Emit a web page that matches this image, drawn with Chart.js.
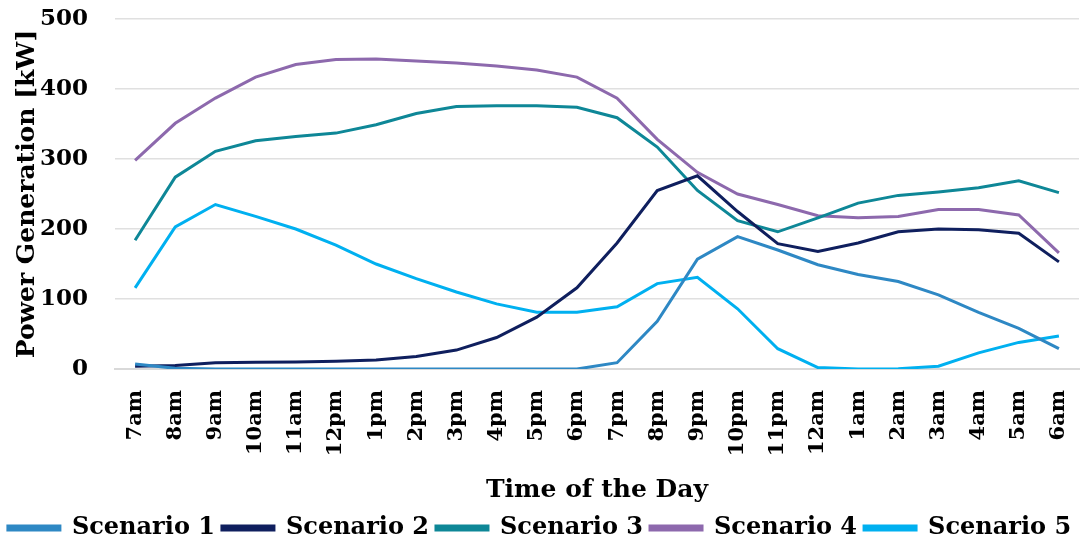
<!DOCTYPE html>
<html>
<head>
<meta charset="utf-8">
<script src="https://cdn.jsdelivr.net/npm/chart.js@4"></script>
<style>
  html, body { margin: 0; padding: 0; background: #fff; }
  #wrap { width: 1088px; height: 550px; }
</style>
</head>
<body>
<div id="wrap"><canvas id="powerChart"></canvas></div>
<script>
const hours = ['7am', '8am', '9am', '10am', '11am', '12pm', '1pm', '2pm', '3pm', '4pm', '5pm', '6pm',
    '7pm', '8pm', '9pm', '10pm', '11pm', '12am', '1am', '2am', '3am', '4am', '5am', '6am'];

const scenario1 = [7, 1, 0, 0, 0, 0, 0, 0, 0, 0, 0, 0, 9, 68, 157, 189, 170, 149, 135, 125, 106, 81, 58, 29];
const scenario2 = [4, 5, 9, 9.5, 10, 11, 13, 18, 27, 45, 74, 116, 180, 255, 276, 225, 179, 168, 180, 196, 200, 199, 194, 153];
const scenario3 = [184, 274, 311, 326, 332, 337, 349, 365, 375, 376, 376, 374, 359, 317, 255, 212, 196, 216, 237, 248, 253, 259, 269, 252];
const scenario4 = [298, 351, 387, 417, 435, 442, 443, 440, 437, 433, 427, 417, 387, 328, 281, 250, 235, 219, 216, 218, 228, 228, 220, 166];
const scenario5 = [116, 203, 235, 218, 200, 177, 150, 129, 110, 93, 81, 81, 89, 122, 131, 86, 29, 2, 0, 0.5, 4, 23, 38, 47];

const seriesNames = ['Scenario 1', 'Scenario 2', 'Scenario 3', 'Scenario 4', 'Scenario 5'];
const seriesColors = ['#2E88C4', '#0F1F5E', '#0E8797', '#8D69AD', '#00B0F0'];

const font = "'DejaVu Serif', serif";

const ctx = document.getElementById('powerChart');

new Chart(ctx, {
    type: 'line',
    data: {
        labels: hours,
        datasets: [scenario1, scenario2, scenario3, scenario4, scenario5].map((values, i) => ({
            label: seriesNames[i],
            data: values,
            borderColor: seriesColors[i],
            backgroundColor: seriesColors[i],
            borderWidth: 3,
            pointRadius: 0,
            tension: 0
        }))
    },
    options: {
        responsive: true,
        maintainAspectRatio: false,
        animation: false,
        layout: { padding: { top: 19, right: 9, left: 0, bottom: 0 } },
        plugins: {
            tooltip: { enabled: false },
            legend: {
                position: 'bottom',
                labels: {
                    color: '#000',
                    font: { family: font, size: 24, weight: 'bold' },
                    boxWidth: 52,
                    boxHeight: 4,
                    padding: 7
                }
            }
        },
        scales: {
            x: {
                offset: true,
                // tick marks kept invisible, only used to push the labels down
                grid: {
                    display: true,
                    drawOnChartArea: false,
                    drawTicks: true,
                    tickLength: 21,
                    tickColor: 'transparent'
                },
                border: { color: '#d9d9d9', width: 2 },
                ticks: {
                    color: '#000',
                    font: { family: font, size: 21, weight: 'bold' },
                    maxRotation: 90,
                    minRotation: 90,
                    autoSkip: false,
                    padding: 0
                },
                title: {
                    display: true,
                    text: 'Time of the Day',
                    color: '#000',
                    font: { family: font, size: 25, weight: 'bold' },
                    padding: { top: 4, bottom: 4 }
                },
                afterFit(scale) {
                    scale.height = 140;
                }
            },
            y: {
                min: 0,
                max: 500,
                grid: {
                    color: '#e0e0e0',
                    lineWidth: 1.5,
                    drawTicks: true,
                    tickLength: 27,
                    tickColor: 'transparent'
                },
                border: { display: false },
                ticks: {
                    stepSize: 100,
                    color: '#000',
                    font: { family: font, size: 23, weight: 'bold' },
                    padding: 0
                },
                title: {
                    display: true,
                    text: 'Power Generation [kW]',
                    color: '#000',
                    font: { family: font, size: 25, weight: 'bold' },
                    padding: { top: 12, bottom: 4 }
                },
                afterFit(scale) {
                    scale.width = 115;
                }
            }
        }
    }
});
</script>
</body>
</html>
